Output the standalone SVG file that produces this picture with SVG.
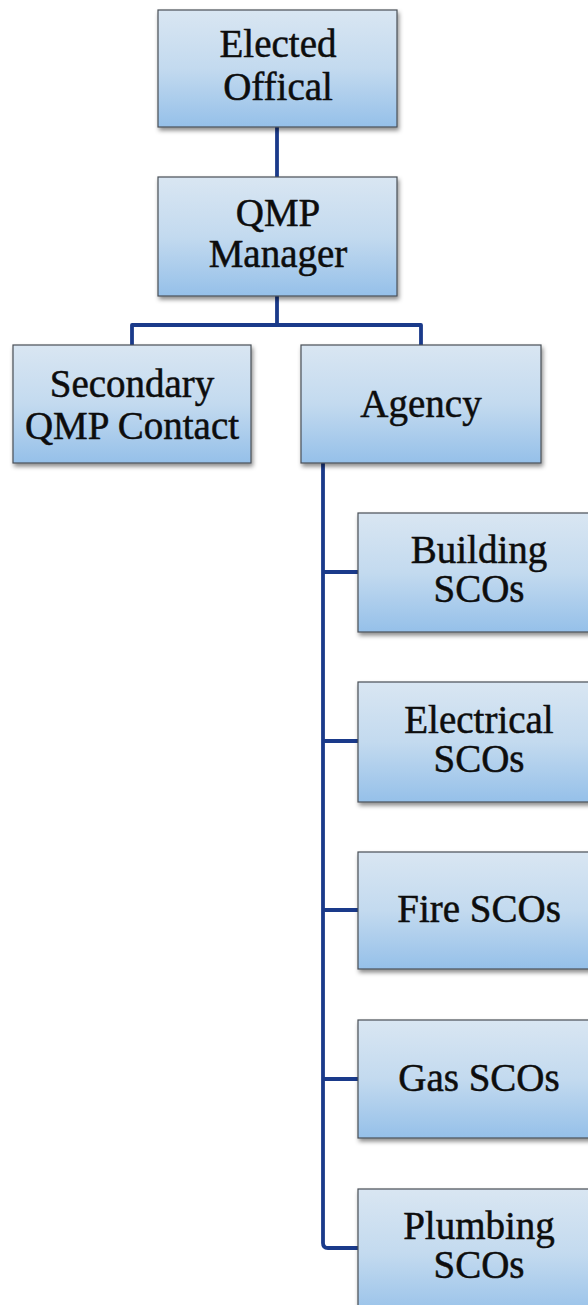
<svg xmlns="http://www.w3.org/2000/svg" width="588" height="1305" viewBox="0 0 588 1305">
<style>
.box{fill:url(#g);stroke:#4a4f57;stroke-width:1.2;filter:url(#sh)}
.t{font-family:"Liberation Serif","Times New Roman",Tinos,serif;font-size:39px;fill:#0d0d0d;stroke:#0d0d0d;stroke-width:0.5;text-anchor:middle}
.c{fill:none;stroke:#1a3a8a;stroke-width:3.8;stroke-linejoin:round}
</style>
<defs>
<linearGradient id="g" x1="0" y1="0" x2="0" y2="1">
<stop offset="0" stop-color="#d9e6f2"/>
<stop offset="0.5" stop-color="#c3daef"/>
<stop offset="1" stop-color="#95c0e9"/>
</linearGradient>
<filter id="sh" x="-10%" y="-10%" width="125%" height="130%">
<feDropShadow dx="1.5" dy="3" stdDeviation="2" flood-color="#000" flood-opacity="0.45"/>
</filter>
</defs>
<rect width="588" height="1305" fill="#fff"/>
<g id="connectors">
<path class="c" d="M277 127V177"/>
<path class="c" d="M277 296V325M132 345V325H421V345"/>
<path class="c" d="M323 463V1243Q323 1248 328 1248H358"/>
<path class="c" d="M323 572H358M323 741H358M323 910H358M323 1079H358"/>
</g>
<g id="elected">
<rect class="box" x="158" y="10" width="239" height="117"/>
<text class="t" x="278" y="57">Elected</text>
<text class="t" x="278" y="100">Offical</text>
</g>
<g id="qmp-manager">
<rect class="box" x="158" y="177" width="239" height="119"/>
<text class="t" x="278" y="226">QMP</text>
<text class="t" x="278" y="267">Manager</text>
</g>
<g id="secondary">
<rect class="box" x="13" y="345" width="238" height="118"/>
<text class="t" x="132" y="397">Secondary</text>
<text class="t" x="132" y="439">QMP Contact</text>
</g>
<g id="agency">
<rect class="box" x="301" y="345" width="240" height="118"/>
<text class="t" x="421" y="417">Agency</text>
</g>
<g id="building">
<rect class="box" x="358" y="513" width="240" height="119"/>
<text class="t" x="479" y="563">Building</text>
<text class="t" x="479" y="602">SCOs</text>
</g>
<g id="electrical">
<rect class="box" x="358" y="682" width="240" height="120"/>
<text class="t" x="479" y="733">Electrical</text>
<text class="t" x="479" y="772">SCOs</text>
</g>
<g id="fire">
<rect class="box" x="358" y="852" width="240" height="117"/>
<text class="t" x="479" y="922">Fire SCOs</text>
</g>
<g id="gas">
<rect class="box" x="358" y="1020" width="240" height="118"/>
<text class="t" x="479" y="1091">Gas SCOs</text>
</g>
<g id="plumbing">
<rect class="box" x="358" y="1189" width="240" height="130"/>
<text class="t" x="479" y="1239">Plumbing</text>
<text class="t" x="479" y="1278">SCOs</text>
</g>
</svg>
